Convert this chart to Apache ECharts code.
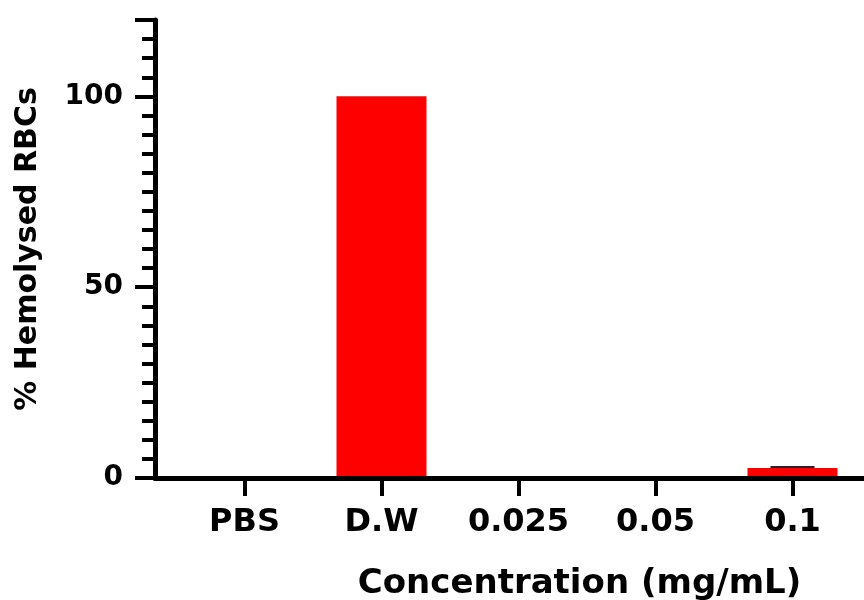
<!DOCTYPE html>
<html>
<head>
<meta charset="utf-8">
<script src="https://cdn.jsdelivr.net/npm/echarts@6/dist/echarts.min.js"></script>
<style>
html,body{margin:0;padding:0;background:#fff;}
#chart{width:864px;height:600px;}
</style>
</head>
<body>
<div id="chart"></div>
<script>
// ---- data ----
var categories = ['PBS', 'D.W', '0.025', '0.05', '0.1'];
var meanValues = [0, 100, 0, 0, 2.6];
var errorValues = [0, 0, 0, 0, 0.3];
var yMin = 0;
var yMax = 120;
var yMajorInterval = 50;
var yMinorInterval = 5;
var xAxisTitle = 'Concentration (mg/mL)';
var yAxisTitle = '% Hemolysed RBCs';

var FONT = 'DejaVu Sans';
var chart = echarts.init(document.getElementById('chart'), null, {renderer: 'canvas'});

var errorData = categories.map(function (c, i) { return [i, meanValues[i], errorValues[i]]; });

var option = {
  backgroundColor: '#ffffff',
  animation: false,
  grid: [
    {left: 176, width: 685, top: 20, bottom: 122, containLabel: false, outerBoundsMode: 'none'},
    {left: 155, right: 0, top: 20, bottom: 122, containLabel: false, outerBoundsMode: 'none'}
  ],
  xAxis: [
    {
      gridIndex: 0, type: 'category', data: categories,
      axisLine: {show: false},
      axisTick: {show: true, alignWithLabel: true, length: 18, lineStyle: {color: '#000', width: 4}},
      axisLabel: {color: '#000', fontFamily: FONT, fontWeight: 'bold', fontSize: 32, margin: 29},
      splitLine: {show: false}
    },
    {
      gridIndex: 1, type: 'value', min: 0, max: 1, z: 5, position: 'bottom',
      axisLine: {show: true, onZero: false, lineStyle: {color: '#000', width: 5}},
      axisTick: {show: false}, axisLabel: {show: false}, splitLine: {show: false},
      name: xAxisTitle, nameLocation: 'middle', nameGap: 89,
      nameTextStyle: {color: '#000', fontFamily: FONT, fontWeight: 'bold', fontSize: 34, padding: [0, 0, 0, 140]}
    }
  ],
  yAxis: [
    {gridIndex: 0, type: 'value', min: yMin, max: yMax, show: false},
    {
      gridIndex: 1, type: 'value', min: yMin, max: yMax, interval: yMajorInterval, z: 5, position: 'left',
      axisLine: {show: true, lineStyle: {color: '#000', width: 5}},
      axisTick: {show: true, length: 20, lineStyle: {color: '#000', width: 4}},
      axisLabel: {color: '#000', fontFamily: FONT, fontWeight: 'bold', fontSize: 28, margin: 32,
        formatter: function (v) { return (v % yMajorInterval === 0) ? String(v) : ''; }},
      splitLine: {show: false},
      name: yAxisTitle, nameLocation: 'middle', nameGap: 112, nameRotate: 90,
      nameTextStyle: {color: '#000', fontFamily: FONT, fontWeight: 'bold', fontSize: 30}
    },
    {
      gridIndex: 1, type: 'value', min: yMin, max: yMax, interval: yMinorInterval, z: 4, position: 'left', offset: 0,
      axisLine: {show: false},
      axisTick: {show: true, length: 13, lineStyle: {color: '#000', width: 4}},
      axisLabel: {show: false}, splitLine: {show: false}
    }
  ],
  series: [
    {
      type: 'bar', xAxisIndex: 0, yAxisIndex: 0, data: meanValues, barWidth: 90,
      itemStyle: {color: '#ff0000'}
    },
    {
      type: 'custom', xAxisIndex: 0, yAxisIndex: 0, data: errorData, z: 6,
      renderItem: function (params, api) {
        var x = api.value(0), m = api.value(1), e = api.value(2);
        if (!e) return null;
        var top = api.coord([x, m + e]);
        var base = api.coord([x, m]);
        var half = 22;
        return {
          type: 'group',
          children: [
            {type: 'line', shape: {x1: top[0] - half, y1: top[1], x2: top[0] + half, y2: top[1]}, style: {stroke: '#3a1a1a', lineWidth: 2}},
            {type: 'line', shape: {x1: top[0], y1: top[1], x2: base[0], y2: base[1]}, style: {stroke: '#3a1a1a', lineWidth: 2}}
          ]
        };
      }
    }
  ]
};
chart.setOption(option);
</script>
</body>
</html>
